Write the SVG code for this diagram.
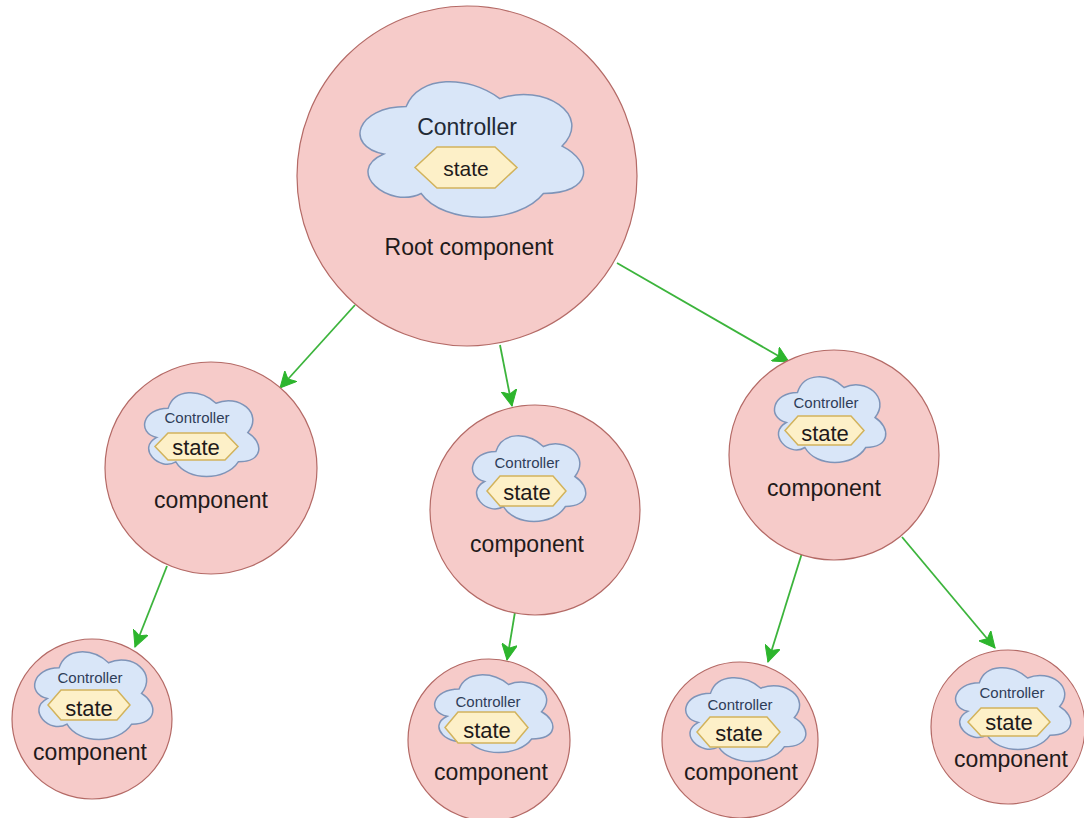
<svg xmlns="http://www.w3.org/2000/svg" xmlns:xlink="http://www.w3.org/1999/xlink" width="1084" height="818" viewBox="0 0 1084 818">
<style>
.comp{fill:#f6cbc9;stroke:#b46a66;stroke-width:1.2}
.cloud{fill:#d9e6f8;stroke:#7f94b8;stroke-width:1.5}
.hex{fill:#fdf0c8;stroke:#d2b35c;stroke-width:1.5}
text{font-family:"Liberation Sans",Arial,sans-serif;text-anchor:middle;fill:#1f1a1a}
.big{font-size:23px}
.ctl{font-size:15px;fill:#2f3d58}
.ctlb{font-size:23px;fill:#222a36}
.st{font-size:22px}
.stb{font-size:21px}
.cmp{font-size:23px}
.edge{stroke:#3cb43c;stroke-width:1.8;fill:none;marker-end:url(#arr)}
</style>
<defs>
<marker id="arr" markerUnits="userSpaceOnUse" markerWidth="18" markerHeight="16" refX="16" refY="8" orient="auto">
<path d="M0,0 L16,8 L0,16 L4,8 Z" fill="#2db52d" stroke="#2db52d" stroke-width="1"/>
</marker>
<path id="cl" vector-effect="non-scaling-stroke" d="M25,25 C5,25 0,50 16,55 C0,66 18,90 31,80 C40,100 70,100 80,80 C100,80 100,60 87.5,50 C100,30 80,10 62.5,20 C50,5 30,5 25,25 Z"/>
</defs>
<rect width="1084" height="818" fill="#ffffff"/>
<g id="connectors">
<line class="edge" x1="355" y1="305" x2="280" y2="388"/>
<line class="edge" x1="500" y1="345" x2="512" y2="406"/>
<line class="edge" x1="617" y1="263" x2="789" y2="362"/>
<line class="edge" x1="167" y1="566" x2="135" y2="647"/>
<line class="edge" x1="515" y1="612" x2="507" y2="660"/>
<line class="edge" x1="802" y1="553" x2="768" y2="662"/>
<line class="edge" x1="902" y1="537" x2="995" y2="648"/>
</g>
<g id="root">
<circle class="comp" cx="467" cy="176" r="170"/>
<use xlink:href="#cl" class="cloud" transform="translate(343.8,67) scale(2.495,1.581)"/>
<text class="ctlb" x="467" y="135">Controller</text>
<polygon class="hex" points="437,147 495,147 517,167.5 495,188 437,188 415,167.5"/>
<text class="stb" x="466" y="176">state</text>
<text class="big" x="469" y="255">Root component</text>
</g>
<g id="left">
<circle class="comp" cx="211" cy="468" r="106"/>
<use xlink:href="#cl" class="cloud" transform="translate(136.3,383.7) scale(1.275,0.977)"/>
<text class="ctl" x="197" y="423">Controller</text>
<polygon class="hex" points="168,433 225,433 238,446.5 225,460 168,460 155,446.5"/>
<text class="st" x="196" y="455">state</text>
<text class="cmp" x="211" y="508">component</text>
</g>
<g id="middle">
<circle class="comp" cx="535" cy="510" r="105"/>
<use xlink:href="#cl" class="cloud" transform="translate(464.3,426.5) scale(1.264,1.0)"/>
<text class="ctl" x="527" y="468">Controller</text>
<polygon class="hex" points="500,476 553,476 566,491 553,506 500,506 487,491"/>
<text class="st" x="527" y="500">state</text>
<text class="cmp" x="527" y="552">component</text>
</g>
<g id="right">
<circle class="comp" cx="834" cy="455" r="105"/>
<use xlink:href="#cl" class="cloud" transform="translate(766.4,367.5) scale(1.242,1.0)"/>
<text class="ctl" x="826" y="408">Controller</text>
<polygon class="hex" points="798,416 851,416 864,430.5 851,445 798,445 785,430.5"/>
<text class="st" x="825" y="441">state</text>
<text class="cmp" x="824" y="496">component</text>
</g>
<g id="leaf1">
<circle class="comp" cx="92" cy="719" r="80"/>
<use xlink:href="#cl" class="cloud" transform="translate(26.1,642.3) scale(1.319,1.023)"/>
<text class="ctl" x="90" y="683">Controller</text>
<polygon class="hex" points="61,690 117,690 130,705 117,720 61,720 48,705"/>
<text class="st" x="89" y="716">state</text>
<text class="cmp" x="90" y="760">component</text>
</g>
<g id="leaf2">
<circle class="comp" cx="489" cy="740" r="81"/>
<use xlink:href="#cl" class="cloud" transform="translate(426.1,666.4) scale(1.319,0.907)"/>
<text class="ctl" x="488" y="707">Controller</text>
<polygon class="hex" points="458,712 515,712 528,727.5 515,743 458,743 445,727.5"/>
<text class="st" x="487" y="738">state</text>
<text class="cmp" x="491" y="780">component</text>
</g>
<g id="leaf3">
<circle class="comp" cx="740" cy="740" r="78"/>
<use xlink:href="#cl" class="cloud" transform="translate(677,668.7) scale(1.341,0.977)"/>
<text class="ctl" x="740" y="710">Controller</text>
<polygon class="hex" points="710,717 767,717 780,732 767,747 710,747 697,732"/>
<text class="st" x="739" y="741">state</text>
<text class="cmp" x="741" y="780">component</text>
</g>
<g id="leaf4">
<circle class="comp" cx="1008" cy="727" r="77"/>
<use xlink:href="#cl" class="cloud" transform="translate(947.2,658.9) scale(1.286,0.953)"/>
<text class="ctl" x="1012" y="698">Controller</text>
<polygon class="hex" points="981,708 1037,708 1050,722 1037,736 981,736 968,722"/>
<text class="st" x="1009" y="730">state</text>
<text class="cmp" x="1011" y="767">component</text>
</g>
</svg>
